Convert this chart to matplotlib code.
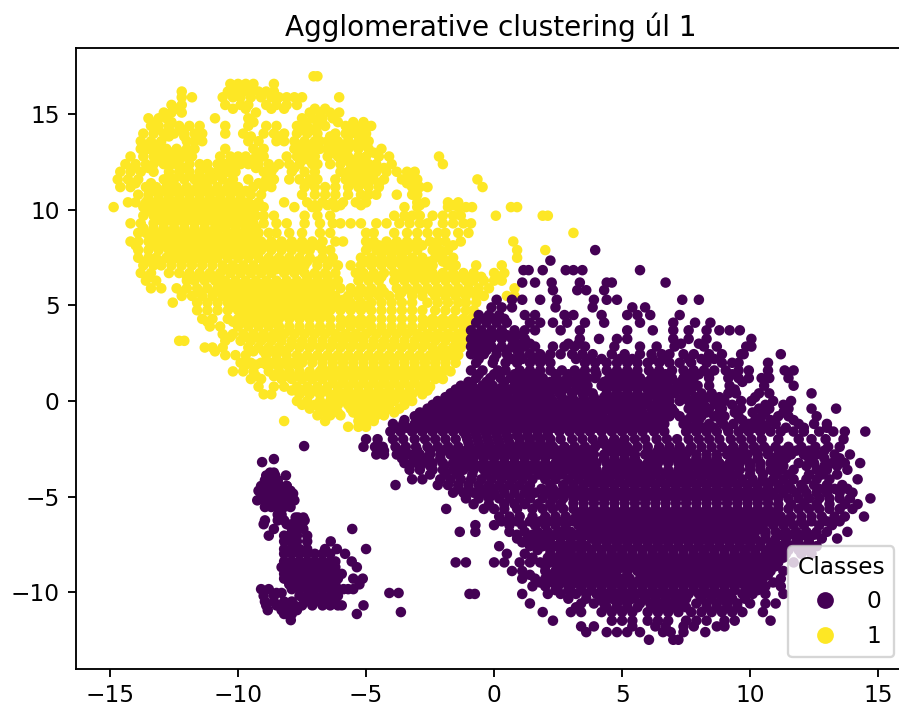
# scatter of two agglomerative clusters
import matplotlib
matplotlib.use('Agg')
import matplotlib.pyplot as plt

# each row is (y, [x values])
yellow_top = [
    (17.0, [-7.05, -6.9]),
    (16.6, [-10.3, -10.0, -9.7, -9.4, -8.6]),
    (16.2, [-12.2, -10.4, -10.1, -9.8, -9.5, -9.2, -8.9, -8.6]),
    (15.9, [-12.2, -11.8, -10.6, -10.2, -9.9, -9.5, -9.1, -8.7, -8.4, -8.1, -7.8, -7.5, -6.05]),
    (15.5, [-12.6, -12.2, -10.5, -9.9, -9.6, -8.9, -8.5, -8.1, -7.7]),
    (15.1, [-12.9, -12.6, -12.2, -9.3, -7.2, -6.8, -6.4, -6.05]),
    (14.8, [-13.5, -13.1, -12.8, -10.9, -9.6, -7.5, -7.1, -6.7, -6.3]),
    (14.4, [-13.4, -13.1, -12.7, -12.3, -11.9, -11.5, -10.5, -9.6, -8.9, -8.5, -7.7, -7.3, -6.9, -6.6, -5.8, -5.4, -5.0, -4.8]),
    (14.0, [-13.7, -13.3, -12.9, -12.5, -12.1, -11.7, -11.4, -10.5, -9.8, -9.0, -8.6, -8.2, -7.7, -7.3, -6.9, -6.2, -5.8, -5.4, -5.0]),
    (13.6, [-13.8, -13.4, -13.0, -12.0, -11.7, -11.4, -9.6, -9.2, -8.5, -8.2, -7.8, -7.4, -7.0, -6.8, -6.5, -6.1, -5.7, -5.3, -4.9]),
    (13.2, [-13.8, -13.5, -13.1, -12.8, -12.4, -12.0, -11.7, -10.5, -9.4, -9.0, -7.8, -7.4, -7.0, -6.8, -6.5, -6.1, -5.7, -5.3, -4.9, -4.4]),
    (12.8, [-14.2, -13.7, -13.3, -12.9, -12.5, -12.1, -11.8, -10.7, -10.3, -10.0, -9.7, -9.3, -9.0, -8.1, -7.7, -7.3, -7.0, -6.5, -6.1, -5.7, -5.3, -5.0, -4.5, -4.1, -2.15]),
    (12.4, [-14.4, -14.0, -13.6, -13.3, -12.9, -12.6, -12.4, -11.9, -11.5, -11.2, -10.8, -10.5, -10.2, -9.9, -9.6, -9.2, -8.8, -8.4, -8.0, -7.6, -7.1, -6.9, -6.4, -6.0, -5.6, -5.2, -4.9, -4.6, -4.0, -2.0]),
    (12.0, [-14.6, -14.2, -13.8, -13.3, -12.7, -12.3, -11.9, -11.5, -11.1, -10.8, -10.4, -10.1, -9.0, -8.7, -7.9, -7.4, -7.0, -6.0, -5.7, -5.3, -5.0, -4.6, -4.2, -3.8, -3.4, -3.1]),
    (11.6, [-14.7, -14.3, -13.9, -12.9, -12.5, -12.1, -11.7, -11.3, -11.0, -10.6, -10.2, -9.6, -8.9, -8.6, -8.0, -7.6, -7.2, -6.9, -6.2, -5.8, -5.4, -5.0, -4.7, -4.3, -3.6, -3.3, -3.0, -0.65]),
    (11.2, [-14.6, -14.2, -13.6, -13.2, -12.8, -12.4, -12.0, -11.6, -11.2, -10.8, -10.4, -10.0, -9.4, -9.0, -8.7, -7.4, -7.0, -6.6, -6.2, -5.7, -5.3, -4.9, -4.5, -3.2, -2.9, -2.6, -0.45]),
    (10.8, [-13.9, -13.5, -13.1, -12.7, -12.3, -11.9, -11.5, -11.1, -10.7, -10.3, -9.9, -9.5, -9.1, -7.5, -7.0, -6.6, -6.2, -5.7, -5.2, -4.9, -4.6, -3.8, -3.2, -3.0]),
    (10.4, [-14.3, -14.0, -13.6, -13.2, -12.8, -12.4, -12.0, -11.6, -11.2, -10.8, -10.4, -10.0, -9.6, -9.2, -8.2, -7.3, -6.7, -6.3, -5.9, -5.4, -5.0, -3.0, -2.7, -1.8, -1.4]),
    (10.15, [-14.86, -13.7, -13.3, -12.9, -12.5, -12.1, -11.7, -11.3, -10.9, -10.5, -10.1, -9.7, -9.3, -9.0, -7.8, -7.1, -6.9, -6.2, -3.5, -3.0, -1.8, -1.4, -1.1, -0.86, 0.66, 0.9]),
    (9.7, [-13.7, -13.3, -12.9, -12.5, -12.1, -11.7, -11.3, -10.9, -10.5, -10.1, -9.7, -9.3, -9.0, -8.6, -7.4, -6.9, -6.4, -3.9, -3.5, -3.2, -2.9, -2.4, -2.0, -1.6, -1.3, 0.07, 1.9, 2.1]),
    (9.3, [-14.2, -13.8, -13.3, -12.9, -12.5, -12.1, -11.7, -11.3, -10.9, -10.6, -10.2, -9.8, -9.4, -9.0, -8.5, -8.1, -7.4, -6.8, -6.3, -6.0, -5.6, -5.2, -4.6, -4.2, -3.7, -3.3, -2.9, -2.6, -2.0, -1.6, -1.2, -0.9]),
    (8.8, [-13.9, -13.6, -13.2, -12.8, -12.4, -12.0, -11.6, -11.2, -10.8, -10.4, -10.0, -9.6, -9.2, -8.8, -8.5, -8.0, -7.5, -6.8, -6.4, -5.0, -4.7, -3.9, -3.4, -3.0, -2.6, -2.2, -1.9, -1.4, -1.0, 3.1]),
    (8.35, [-14.2, -13.9, -13.5, -13.1, -12.7, -12.3, -11.9, -11.5, -11.1, -10.7, -10.3, -9.9, -9.5, -9.1, -8.7, -8.3, -7.9, -7.5, -7.1, -6.7, -6.2, -5.9, -5.0, -4.7, -4.2, -3.8, -3.4, -3.0, -2.5, -2.2, -1.9, -1.3, 0.75]),
]

yellow_middle = [
    (7.9, [-13.9, -13.5, -13.1, -12.7, -12.3, -11.9, -11.5, -11.1, -10.7, -10.3, -9.9, -9.5, -9.1, -8.7, -8.3, -7.9, -7.5, -7.2, -6.7, -6.4, -5.0, -4.6, -4.2, -3.8, -3.4, -3.0, -2.4, -2.1, -1.8, 2.0, 0.9]),
    (7.5, [-13.9, -13.5, -13.2, -12.8, -12.4, -12.0, -11.6, -11.2, -10.8, -10.4, -10.0, -9.6, -9.2, -8.8, -8.4, -8.0, -7.6, -7.2, -6.7, -6.3, -5.2, -4.8, -4.4, -4.0, -3.6, -3.2, -2.8, -2.3, -2.0, -1.6, 0.9]),
    (7.1, [-13.7, -13.3, -13.0, -12.6, -12.2, -11.8, -11.4, -11.0, -10.6, -10.2, -9.8, -9.4, -9.0, -8.6, -8.2, -7.8, -7.4, -6.9, -6.5, -6.1, -5.6, -5.2, -4.8, -4.4, -4.0, -3.6, -3.2, -2.8, -2.4, -1.8, -1.5, -0.7, 0.3]),
    (6.7, [-13.8, -13.4, -12.7, -12.3, -11.9, -11.5, -11.1, -10.7, -10.3, -9.9, -9.5, -9.1, -8.7, -8.2, -7.8, -7.4, -7.0, -6.6, -6.2, -5.4, -5.1, -4.7, -4.3, -3.9, -3.6, -3.2, -2.8, -2.4, -2.0, -1.6, -1.2, -0.8, 0.0, 0.4]),
    (6.3, [-13.6, -13.2, -12.0, -11.7, -11.3, -10.9, -10.5, -10.1, -9.7, -9.3, -8.9, -8.5, -8.1, -7.7, -7.3, -6.9, -6.5, -6.1, -5.3, -4.9, -4.5, -3.9, -3.5, -3.1, -2.7, -2.3, -1.9, -1.5, -1.1, -0.8, -0.4, 0.0, 0.3]),
    (5.9, [-13.4, -13.0, -12.4, -12.0, -11.6, -11.2, -10.8, -10.4, -10.0, -9.6, -9.2, -8.8, -8.4, -8.0, -7.6, -7.2, -6.8, -6.4, -6.0, -5.6, -5.2, -4.8, -4.4, -3.8, -3.4, -3.0, -2.6, -2.2, -1.8, -1.4, -1.0, -0.6, -0.2, 0.8]),
    (5.5, [-12.2, -11.8, -11.4, -11.0, -10.6, -10.2, -9.8, -9.4, -9.0, -8.6, -8.2, -7.8, -7.4, -7.0, -6.6, -6.2, -5.7, -5.3, -4.9, -4.5, -4.1, -3.7, -3.2, -2.8, -2.3, -1.9, -1.5, -1.1, -0.7, -0.4, 0.5, 0.8]),
    (5.15, [-12.55, -11.6, -11.2, -10.8, -10.4, -10.0, -9.6, -9.2, -8.8, -8.4, -8.0, -7.6, -7.2, -6.8, -6.4, -6.0, -5.6, -5.2, -4.8, -4.4, -4.0, -3.6, -3.2, -2.6, -2.2, -1.8, -1.4, -1.1, -0.7]),
    (4.75, [-11.6, -11.2, -10.8, -10.4, -10.0, -9.6, -9.2, -8.8, -8.4, -8.0, -7.6, -7.2, -6.8, -6.4, -6.0, -5.6, -5.2, -4.8, -4.4, -4.0, -3.6, -3.2, -2.8, -2.3, -1.9, -1.5, -1.1, -0.8]),
    (4.3, [-11.4, -11.0, -10.4, -10.0, -9.6, -9.2, -8.8, -8.4, -8.0, -7.6, -7.2, -6.8, -6.4, -6.0, -5.6, -5.2, -4.8, -4.4, -4.0, -3.6, -3.2, -2.8, -2.4, -2.0, -1.6, -1.2, -0.9]),
    (3.9, [-11.1, -10.7, -10.0, -9.6, -9.2, -8.8, -8.4, -8.0, -7.6, -7.2, -6.8, -6.4, -6.0, -5.6, -5.2, -4.8, -4.4, -4.0, -3.6, -3.2, -2.8, -2.4, -2.0, -1.6, -1.2, -1.0]),
    (3.5, [-10.6, -10.2, -9.8, -9.4, -9.0, -8.6, -8.2, -7.8, -7.4, -7.0, -6.6, -6.2, -5.8, -5.4, -5.0, -4.6, -4.2, -3.8, -3.4, -3.0, -2.6, -2.2, -1.8, -1.4, -1.1]),
    (3.15, [-12.3, -12.1, -10.5, -9.9, -9.5, -9.1, -8.7, -8.3, -7.9, -7.5, -7.1, -6.7, -6.3, -5.9, -5.5, -5.1, -4.7, -4.3, -3.9, -3.5, -3.1, -2.7, -2.3, -1.9, -1.5, -1.2]),
    (2.8, [-11.3, -11.0, -10.6, -9.6, -9.2, -8.8, -8.4, -8.0, -7.6, -7.2, -6.8, -6.4, -6.0, -5.6, -5.2, -4.8, -4.4, -4.0, -3.6, -3.2, -2.8, -2.4, -2.0, -1.6, -1.3]),
    (2.4, [-10.5, -10.1, -9.7, -8.9, -8.5, -8.1, -7.7, -7.3, -6.9, -6.5, -6.1, -5.7, -5.3, -4.9, -4.5, -4.1, -3.7, -3.3, -2.9, -2.5, -2.1, -1.7, -1.4]),
    (2.0, [-9.9, -9.5, -9.1, -8.7, -8.3, -7.9, -7.5, -7.1, -6.7, -6.3, -5.9, -5.5, -5.1, -4.7, -4.3, -3.9, -3.5, -3.1, -2.7, -2.3, -1.9, -1.5]),
    (1.55, [-10.2, -9.8, -9.4, -8.8, -8.4, -8.0, -7.6, -7.2, -6.8, -6.4, -6.0, -5.6, -5.2, -4.8, -4.4, -4.0, -3.6, -3.2, -2.8, -2.4, -2.0, -1.7]),
    (1.15, [-9.5, -9.1, -8.3, -7.9, -7.5, -7.1, -6.7, -6.3, -5.9, -5.5, -5.1, -4.7, -4.3, -3.9, -3.5, -3.1, -2.7, -2.3, -2.0]),
    (0.75, [-9.2, -8.6, -8.2, -7.7, -7.3, -6.9, -6.5, -6.1, -5.7, -5.3, -4.9, -4.5, -4.1, -3.7, -3.3, -2.9, -2.5]),
    (0.35, [-9.0, -8.7, -7.6, -7.2, -6.8, -6.4, -6.0, -5.6, -5.2, -4.8, -4.4, -4.0, -3.6, -3.2, -2.8]),
    (0.0, [-7.7, -7.3, -6.8, -6.4, -5.9, -5.5, -5.1, -4.7, -4.3, -3.9, -3.5, -3.2]),
    (-0.4, [-7.2, -6.8, -6.3, -5.6, -5.2, -4.8, -4.4, -4.1, -3.7]),
    (-0.75, [-6.9, -6.4, -6.0, -5.3, -4.9, -4.6, -4.3]),
    (-1.05, [-8.2, -6.6, -5.3, -5.0, -4.7]),
    (-1.35, [-5.7, -5.3, -5.0]),
]

# extra points where the yellow cloud is solid
yellow_dense = [
    (14.2, [-13.2, -12.7, -12.2, -7.5, -7.1, -5.6, -5.2]),
    (13.4, [-13.6, -13.2, -7.6, -7.2, -6.3, -5.9, -5.5, -5.1]),
    (12.6, [-13.1, -12.7, -12.3, -9.5, -7.5, -7.2, -5.9, -5.5]),
    (11.8, [-12.7, -12.3, -11.9, -11.5, -11.1, -10.7, -5.6, -5.2, -4.8]),
    (11.0, [-13.3, -12.9, -12.5, -12.1, -11.7, -11.3, -10.9, -10.5, -10.1, -9.7]),
    (10.6, [-13.5, -13.1, -12.7, -12.3, -11.9, -11.5, -11.1, -10.7, -10.3, -9.9]),
    (9.95, [-13.5, -13.1, -12.7, -12.3, -11.9, -11.5, -11.1, -10.7, -10.3, -9.9, -9.5]),
    (9.5, [-13.1, -12.7, -12.3, -11.9, -11.5, -11.1, -10.7, -10.3, -9.9, -9.5]),
    (9.05, [-13.7, -13.3, -12.9, -12.5, -12.1, -11.7, -11.3, -10.9, -10.5, -10.1, -9.7, -9.3]),
    (8.6, [-13.3, -12.9, -12.5, -12.1, -11.7, -11.3, -10.9, -10.5, -10.1, -9.7, -9.3]),
    (7.7, [-12.5, -12.1, -11.7, -11.3, -10.9, -10.5, -10.1, -9.7, -9.3, -4.4, -4.0, -3.6]),
    (6.9, [-10.5, -10.1, -9.7, -9.3, -8.9, -8.5, -8.0, -7.6, -3.4, -3.0, -2.6]),
    (6.1, [-10.7, -10.3, -9.9, -9.5, -9.1, -8.7, -8.3, -7.9, -7.5, -7.1, -6.7, -6.3]),
    (5.7, [-10.9, -10.5, -10.1, -9.7, -9.3, -8.9, -8.5, -8.1, -7.7, -7.3, -6.9, -6.5]),
    (5.3, [-10.3, -9.9, -9.5, -9.1, -8.7, -8.3, -7.9, -7.5, -7.1, -6.7, -6.3, -5.9]),
    (4.95, [-10.2, -9.8, -9.4, -9.0, -8.6, -8.2, -7.8, -7.4, -7.0, -6.6, -6.2, -5.8, -5.4, -5.0]),
    (4.5, [-9.8, -9.4, -9.0, -8.6, -8.2, -7.8, -7.4, -7.0, -6.6]),
    (3.7, [-8.4, -8.0, -7.6, -7.2, -6.8, -6.4, -4.8, -4.4, -4.0, -3.6, -3.2]),
    (2.95, [-7.9, -7.5, -7.1, -6.7, -6.3, -5.9, -5.5, -5.1, -4.7, -4.3, -3.9, -3.5, -3.1, -2.7]),
    (2.2, [-7.5, -7.1, -6.7, -6.3, -5.9, -5.5, -5.1, -4.7, -4.3, -3.9, -3.5, -3.1, -2.7, -2.3, -1.9]),
    (1.75, [-6.7, -6.3, -5.9, -5.5, -5.1, -4.7, -4.3, -3.9, -3.5, -3.1, -2.7, -2.3, -1.9]),
    (1.35, [-6.5, -6.1, -5.7, -5.3, -4.9, -4.5, -4.1, -3.7, -3.3, -2.9, -2.5, -2.1]),
    (0.95, [-6.3, -5.9, -5.5, -5.1, -4.7, -4.3, -3.9, -3.5, -3.1, -2.7]),
    (0.55, [-6.1, -5.7, -5.3, -4.9, -4.5, -4.1, -3.7, -3.3, -2.9]),
    (0.2, [-6.2, -5.7, -5.3, -4.9, -4.5, -4.1, -3.7, -3.3]),
]

# in-between points that break up the rows of the yellow cloud
yellow_fill = [
    (15.3, [-12.4, -10.2, -9.7, -8.7, -8.2, -7.0, -6.6]),
    (14.6, [-13.2, -12.6, -9.4, -7.4, -6.9, -6.1, -5.5, -5.1]),
    (13.85, [-12.7, -12.1, -11.6, -9.5, -8.4, -6.4, -5.7, -5.2]),
    (13.0, [-13.2, -12.6, -12.2, -9.2, -7.6, -7.2, -6.3, -5.9, -4.7]),
    (12.2, [-14.1, -13.5, -12.1, -11.3, -10.6, -9.3, -8.6, -7.8, -5.5, -4.8, -4.3]),
    (11.4, [-14.0, -13.4, -12.6, -11.5, -10.3, -9.2, -8.8, -7.3, -5.6, -5.1, -4.5, -3.4]),
    (10.25, [-9.4, -7.0, -6.5, -6.0, -5.2, -2.9, -1.6]),
    (8.15, [-14.0, -13.3, -12.9, -12.5, -12.1, -11.7, -11.3, -10.9, -10.5, -10.1, -9.7, -9.3, -8.9, -8.5, -8.1, -7.7, -7.3, -6.9, -4.9, -4.5, -4.0, -3.6, -3.2, -2.8, -2.3, -1.6]),
    (7.3, [-13.6, -13.0, -12.6, -12.2, -11.8, -11.4, -11.0, -8.9, -8.5, -8.1, -7.7, -7.3, -6.9, -6.4, -5.0, -4.6, -4.2, -3.8, -3.4, -2.9, -2.5, -2.0, -1.7]),
    (6.5, [-13.5, -12.0, -11.6, -11.2, -10.8, -7.3, -6.9, -6.5, -5.2, -4.8, -4.4, -3.7, -3.3, -2.9, -2.5, -2.1, -1.7, -1.3, -0.9, -0.5, 0.2]),
    (5.7, [-12.2, -11.5, -5.5, -5.1, -4.7, -4.3, -3.6, -3.2, -2.8, -2.4, -2.0, -1.6, -1.2, -0.8]),
    (4.15, [-11.2, -10.2, -9.8, -9.4, -9.0, -8.6, -5.8, -5.4, -5.0, -2.6, -2.2, -1.8, -1.4, -1.0]),
    (3.35, [-10.3, -9.7, -9.3, -8.9, -8.5, -6.0, -5.6, -5.2, -2.8, -2.4, -2.0, -1.6, -1.2]),
    (2.6, [-10.9, -9.4, -9.0, -8.6, -8.2, -2.3, -1.9, -1.5]),
    (1.9, [-9.7, -9.3, -8.9, -8.5, -8.1, -7.7]),
    (1.3, [-9.3, -8.6, -8.1, -7.7, -7.3, -6.9]),
    (0.55, [-7.9, -7.4, -7.0, -6.6, -2.6]),
    (-0.2, [-7.5, -7.0, -6.6, -6.1, -5.7, -5.3, -4.9, -4.5, -4.1, -3.5]),
    (-0.6, [-6.6, -6.1, -5.5, -5.1, -4.7, -4.3, -3.9]),
]

purple_top = [
    (7.9, [3.95]),
    (7.35, [2.2]),
    (6.85, [1.15, 1.35, 1.9, 2.8, 3.1, 3.45, 5.7]),
    (6.2, [1.1, 1.6, 2.25, 3.35, 4.4, 4.6, 6.7]),
    (5.8, [2.3, 3.25, 3.6, 4.3]),
    (5.3, [0.1, 0.7, 1.1, 1.8, 2.45, 3.9, 4.4, 4.8, 7.35, 8.0]),
    (4.9, [-0.1, 0.3, 0.7, 2.4, 3.85, 5.4, 5.9]),
    (4.5, [-0.6, -0.2, 0.2, 1.2, 1.6, 2.75, 3.1, 4.2, 5.2, 5.6, 6.1, 7.25]),
    (4.1, [-0.7, -0.3, 0.1, 0.5, 1.4, 1.8, 2.3, 2.85, 3.55, 4.3, 5.7, 7.0, 7.85, 8.45]),
    (3.7, [-0.9, -0.5, -0.1, 0.3, 0.8, 1.2, 1.6, 2.6, 3.35, 5.2, 6.2, 7.0, 7.6, 8.3, 8.8, 9.2, 9.6]),
    (3.25, [-0.9, -0.5, -0.1, 0.3, 0.7, 1.2, 3.35, 4.1, 4.8, 5.2, 7.0, 7.6, 8.3, 10.05]),
    (2.85, [-0.9, -0.5, -0.1, 0.3, 0.7, 1.2, 1.6, 2.3, 2.75, 3.15, 3.55, 4.7, 5.7, 6.35, 7.05, 8.2, 8.7, 10.05, 9.85]),
    (2.45, [-0.9, -0.4, 0.1, 0.5, 1.0, 1.4, 1.8, 2.2, 2.6, 3.05, 3.45, 3.85, 4.6, 5.1, 5.7, 6.15, 6.55, 6.85, 7.4, 7.8, 8.4, 8.9, 9.75, 9.65, 11.2]),
    (2.0, [-0.7, -0.05, 0.45, 0.9, 1.4, 1.8, 2.2, 3.55, 3.95, 4.4, 4.8, 5.2, 5.6, 6.0, 6.45, 6.85, 7.25, 7.7, 8.3, 8.9, 9.3, 9.55, 10.7]),
    (1.6, [-0.9, -0.45, 0.15, 0.45, 1.0, 1.4, 1.8, 2.2, 2.65, 3.15, 3.55, 3.95, 4.4, 4.8, 5.2, 5.6, 6.05, 6.45, 6.95, 7.4, 7.8, 8.2, 8.6, 9.05, 9.55, 9.95, 10.7, 11.7, 11.35]),
    (1.2, [-0.7, -0.15, 0.25, 0.65, 1.1, 1.5, 1.9, 2.45, 2.85, 3.25, 3.65, 3.95, 4.5, 4.9, 5.3, 5.7, 6.15, 6.55, 6.95, 7.4, 7.8, 8.4, 9.15, 9.55, 9.95, 10.45, 10.75, 11.5]),
    (0.8, [-1.3, -0.85, -0.45, -0.05, 0.35, 0.8, 1.2, 1.6, 2.0, 2.45, 2.85, 3.25, 3.65, 4.2, 4.6, 5.0, 5.4, 5.85, 6.25, 6.65, 7.15, 7.55, 7.95, 8.4, 9.2, 10.55, 11.7]),
    (0.4, [-1.7, -1.3, -0.85, -0.45, -0.05, 0.45, 0.9, 1.3, 1.7, 2.1, 2.55, 3.05, 3.45, 3.85, 4.4, 4.8, 5.2, 5.6, 6.15, 6.55, 7.05, 7.5, 8.1, 8.5, 9.15, 9.45, 10.35, 10.75, 12.4]),
    (0.0, [-2.2, -1.8, -1.35, -0.95, -0.55, -0.15, 0.25, 0.7, 1.1, 1.5, 1.9, 2.3, 2.75, 3.15, 3.55, 3.95, 4.4, 4.8, 5.2, 5.6, 6.0, 6.45, 6.85, 7.25, 7.6, 8.1, 8.6, 9.0, 9.65, 10.05, 10.9, 11.6]),
    (-0.4, [-2.6, -2.2, -1.8, -1.35, -0.95, -0.55, -0.15, 0.25, 0.7, 1.1, 1.5, 1.9, 2.3, 2.75, 3.15, 3.55, 3.95, 4.4, 4.8, 5.3, 5.7, 6.15, 6.55, 6.95, 7.6, 8.0, 8.4, 8.9, 9.65, 10.35, 10.75, 11.5, 12.4, 13.36]),
    (-0.8, [-3.1, -2.7, -2.3, -1.9, -1.5, -1.05, -0.65, -0.25, 0.15, 0.55, 1.0, 1.4, 1.8, 2.2, 2.6, 3.05, 3.45, 3.85, 4.25, 4.7, 5.1, 5.5, 5.9, 6.35, 6.85, 7.25, 7.7, 8.1, 8.6, 9.0, 9.55, 10.45, 11.1, 11.5, 12.6]),
    (-1.2, [-3.95, -3.55, -3.1, -2.7, -2.3, -1.9, -1.5, -1.05, -0.65, -0.25, 0.15, 0.55, 1.0, 1.4, 1.8, 2.2, 2.6, 3.05, 3.45, 3.85, 4.25, 4.7, 5.1, 5.5, 5.95, 6.35, 6.65, 7.4, 7.9, 8.4, 8.95, 9.35, 9.95, 10.45, 11.0, 11.9, 12.5, 13.0]),
    (-1.6, [-4.05, -3.65, -3.2, -2.8, -2.4, -2.0, -1.6, -1.2, -0.75, -0.35, 0.05, 0.45, 0.9, 1.3, 1.7, 2.1, 2.55, 2.95, 3.35, 3.75, 4.2, 4.6, 5.0, 5.4, 5.8, 6.25, 6.65, 7.5, 7.9, 8.3, 8.7, 9.15, 9.55, 9.95, 10.4, 10.8, 11.2, 11.7, 12.1, 12.7, 13.25, 13.7, 14.5]),
    (-2.0, [-5.0, -4.55, -3.95, -3.55, -3.1, -2.7, -2.3, -1.9, -1.5, -1.05, -0.65, -0.25, 0.15, 0.55, 1.0, 1.4, 1.8, 2.2, 2.6, 3.05, 3.45, 3.85, 4.25, 4.7, 5.1, 5.5, 5.9, 6.35, 6.75, 7.15, 7.6, 8.0, 8.4, 8.8, 9.25, 9.65, 10.05, 10.45, 11.1, 11.9, 12.4, 12.95, 13.65]),
    (-2.4, [-5.1, -4.65, -4.35, -3.85, -3.45, -3.05, -2.6, -2.2, -1.8, -1.4, -0.95, -0.55, -0.15, 0.25, 0.7, 1.1, 1.5, 1.9, 2.3, 2.75, 3.15, 3.55, 3.95, 4.4, 4.8, 5.2, 5.6, 6.0, 6.45, 6.85, 7.25, 7.7, 8.1, 8.5, 8.9, 9.35, 9.75, 10.15, 10.55, 11.0, 11.5, 12.0, 12.55, 13.05, 13.5]),
]

purple_bottom = [
    (-2.8, [-4.6, -4.3, -3.8, -3.3, -2.9, -2.5, -2.1, -1.7, -1.3, -0.9, -0.5, -0.1, 0.3, 0.7, 1.1, 1.5, 1.9, 2.3, 2.7, 3.1, 3.5, 3.9, 4.3, 4.7, 5.1, 5.5, 5.9, 6.3, 6.7, 7.1, 7.5, 7.9, 8.3, 8.7, 9.1, 9.5, 9.9, 10.3, 10.7, 11.1, 11.6, 12.1, 12.6, 13.3, 13.9]),
    (-3.25, [-3.5, -3.2, -2.8, -2.4, -2.0, -1.6, -1.2, -0.8, -0.4, 0.0, 0.4, 0.8, 1.2, 1.6, 2.0, 2.4, 2.8, 3.2, 3.6, 4.0, 4.4, 4.8, 5.2, 5.6, 6.0, 6.4, 6.8, 7.2, 7.6, 8.0, 8.4, 8.8, 9.2, 9.6, 10.0, 10.4, 10.8, 11.2, 11.9, 12.5, 13.2, 13.7, 14.3]),
    (-3.6, [-3.3, -2.9, -2.4, -2.0, -1.6, -1.2, -0.8, -0.4, 0.0, 0.4, 0.8, 1.2, 1.6, 2.0, 2.4, 2.8, 3.2, 3.6, 4.0, 4.4, 4.8, 5.2, 5.6, 6.0, 6.4, 6.8, 7.2, 7.6, 8.0, 8.4, 8.8, 9.2, 9.6, 10.0, 10.4, 10.8, 11.2, 11.7, 12.6, 13.0, 13.8]),
    (-4.1, [-3.2, -2.8, -2.1, -1.7, -1.3, -0.9, -0.5, -0.1, 0.3, 0.7, 1.1, 1.5, 2.0, 2.4, 2.9, 3.3, 3.7, 4.1, 4.5, 4.9, 5.3, 5.7, 6.1, 6.5, 6.9, 7.3, 7.7, 8.1, 8.5, 8.9, 9.3, 9.7, 10.1, 10.5, 10.9, 11.3, 11.7, 12.2, 12.6, 13.1, 14.2]),
    (-4.4, [-3.85, -2.2, -1.8, -1.4, -1.0, -0.6, -0.2, 0.2, 0.6, 1.0, 1.4, 2.2, 2.7, 3.1, 3.5, 3.9, 4.3, 4.7, 5.1, 5.5, 5.9, 6.3, 6.7, 7.1, 7.5, 7.9, 8.3, 8.7, 9.1, 9.5, 9.9, 10.3, 10.7, 11.1, 11.5, 12.0, 12.5, 13.0, 13.6]),
    (-4.8, [-1.6, -1.2, -0.8, -0.4, 0.0, 0.4, 0.8, 1.2, 1.6, 2.1, 2.5, 2.9, 3.3, 3.7, 4.1, 4.5, 4.9, 5.3, 5.7, 6.1, 6.5, 6.9, 7.3, 7.7, 8.1, 8.5, 8.9, 9.3, 9.7, 10.1, 10.5, 10.9, 11.3, 11.8, 12.2, 12.6, 13.0, 13.5, 14.0]),
    (-5.1, [-1.1, -0.6, -0.2, 0.2, 0.6, 1.0, 1.4, 1.9, 2.3, 2.7, 3.1, 3.5, 3.9, 4.3, 4.7, 5.1, 5.5, 5.9, 6.3, 6.7, 7.1, 7.5, 7.9, 8.3, 8.7, 9.1, 9.5, 9.9, 10.3, 10.7, 11.1, 11.5, 11.9, 12.3, 12.7, 13.1, 13.5, 13.9, 14.7]),
    (-5.65, [-1.87, -0.4, 0.0, 0.4, 0.9, 1.5, 1.9, 2.3, 2.7, 3.1, 3.5, 3.9, 4.3, 4.7, 5.1, 5.5, 5.9, 6.3, 6.7, 7.1, 7.5, 7.9, 8.3, 8.7, 9.1, 9.5, 9.9, 10.3, 10.7, 11.1, 11.5, 11.9, 12.3, 12.7, 13.1, 13.5, 14.0]),
    (-6.05, [0.2, 0.6, 1.0, 1.5, 2.0, 2.4, 2.8, 3.2, 3.6, 4.0, 4.4, 4.8, 5.2, 5.6, 6.0, 6.4, 6.8, 7.2, 7.6, 8.0, 8.4, 8.8, 9.2, 9.6, 10.0, 10.4, 10.8, 11.2, 11.6, 12.0, 12.4, 12.8, 13.3, 13.7, 14.45]),
    (-6.5, [-0.73, 0.0, 0.6, 1.1, 1.6, 2.0, 2.4, 2.8, 3.3, 3.7, 4.1, 4.5, 4.9, 5.3, 5.7, 6.1, 6.5, 6.9, 7.3, 7.7, 8.1, 8.5, 8.9, 9.3, 9.7, 10.1, 10.5, 10.9, 11.3, 11.7, 12.1, 12.7, 13.2]),
    (-6.85, [-1.34, -0.73, 0.6, 1.2, 1.7, 2.1, 2.6, 3.0, 3.4, 3.8, 4.2, 4.6, 5.0, 5.4, 5.8, 6.2, 6.6, 7.0, 7.4, 7.8, 8.2, 8.6, 9.0, 9.4, 9.8, 10.2, 10.6, 11.0, 11.4, 11.8, 12.2, 12.6, 13.0, 13.8]),
    (-7.2, [0.9, 1.3, 1.8, 2.2, 2.6, 3.0, 3.4, 3.8, 4.2, 4.6, 5.0, 5.4, 5.8, 6.2, 6.6, 7.0, 7.4, 7.8, 8.2, 8.6, 9.0, 9.4, 9.8, 10.2, 10.6, 11.0, 11.4, 11.9, 12.3, 12.8, 13.4]),
    (-7.6, [0.2, 1.4, 1.9, 2.4, 2.8, 3.2, 3.6, 4.0, 4.4, 4.8, 5.2, 5.6, 6.0, 6.4, 6.8, 7.2, 7.6, 8.0, 8.4, 8.8, 9.2, 9.6, 10.0, 10.4, 10.8, 11.2, 11.6, 12.0, 12.6]),
    (-8.0, [0.5, 1.2, 2.2, 2.6, 3.0, 3.4, 3.8, 4.2, 4.6, 5.0, 5.4, 5.8, 6.2, 6.6, 7.0, 7.4, 7.8, 8.2, 8.6, 9.0, 9.4, 9.8, 10.2, 10.6, 11.0, 11.4, 12.0, 12.4]),
    (-8.45, [-1.5, -1.1, 0.0, 0.4, 1.0, 1.4, 1.8, 2.2, 2.7, 3.1, 3.5, 3.9, 4.3, 4.7, 5.1, 5.5, 5.9, 6.3, 6.7, 7.1, 7.5, 7.9, 8.3, 8.7, 9.1, 9.5, 9.9, 10.3, 10.7, 11.1, 11.7]),
    (-8.9, [0.7, 1.1, 2.0, 2.4, 2.8, 3.2, 3.6, 4.0, 4.4, 4.8, 5.2, 5.6, 6.0, 6.4, 6.8, 7.2, 7.6, 8.0, 8.4, 8.8, 9.2, 9.6, 10.0, 10.4, 10.8, 11.3]),
    (-9.3, [1.1, 1.6, 2.0, 2.4, 2.9, 3.3, 3.7, 4.1, 4.5, 4.9, 5.3, 5.7, 6.1, 6.5, 6.9, 7.3, 7.7, 8.1, 8.5, 8.9, 9.3, 9.7, 10.1, 10.5, 11.2]),
    (-9.7, [1.5, 2.0, 2.5, 3.0, 3.4, 3.8, 4.2, 4.6, 5.0, 5.4, 5.8, 6.2, 6.6, 7.0, 7.4, 7.8, 8.2, 8.6, 9.0, 9.4, 9.8, 10.2, 10.6, 11.2]),
    (-10.1, [-0.96, -0.75, 1.1, 2.1, 2.6, 3.2, 3.6, 4.0, 4.4, 4.8, 5.2, 5.6, 6.0, 6.4, 6.8, 7.2, 7.6, 8.0, 8.4, 8.8, 9.2, 9.7, 10.1, 10.6, 11.3]),
    (-10.6, [1.4, 3.4, 3.9, 4.3, 4.8, 5.2, 5.7, 6.1, 6.5, 6.9, 7.3, 7.9, 8.3, 8.7, 9.1, 9.5, 10.0, 10.6, 11.0]),
    (-11.05, [1.9, 3.0, 3.4, 4.2, 4.6, 5.0, 5.4, 6.0, 6.4, 6.8, 7.2, 7.7, 8.1, 8.5, 8.9, 9.3, 9.7, 10.5]),
    (-11.5, [2.3, 4.6, 5.0, 5.4, 6.0, 6.4, 6.8, 7.5, 7.9, 8.3, 9.0, 9.4, 10.8]),
    (-11.8, [3.4, 3.9, 5.4, 6.3, 6.7, 7.4, 7.8, 8.7, 9.0]),
    (-12.1, [3.6, 4.4, 4.8, 5.2, 5.7, 6.6, 6.9, 7.4, 8.25]),
    (-12.5, [6.05, 7.0, 7.2]),
]

# extra points where the purple cloud is solid
purple_dense = [
    (4.3, [-0.4, 0.0, 0.4]),
    (3.45, [-0.7, -0.3, 0.1, 0.5, 0.9]),
    (2.65, [-0.7, -0.3, 0.1, 0.5, 0.9]),
    (-1.8, [-1.1, -0.7, -0.3, 0.1, 0.5, 0.9, 1.3, 1.7, 2.1]),
    (-2.2, [-1.0, -0.6, -0.2, 0.2, 0.6, 1.0, 1.4, 1.8, 2.2, 4.2, 4.6, 5.0]),
    (-2.6, [-1.1, -0.7, -0.3, 0.1, 0.5, 0.9, 1.3, 1.7, 2.1, 4.5, 4.9, 5.3]),
    (-3.0, [-0.8, -0.4, 0.0, 0.4, 0.8, 1.2, 1.6, 4.3, 4.7, 5.1, 5.5, 7.9, 8.3, 8.7]),
    (-3.4, [-0.6, -0.2, 0.2, 0.6, 1.0, 1.4, 4.5, 4.9, 5.3, 5.7, 6.1, 7.3, 7.7, 8.1, 8.5, 8.9, 9.3]),
    (-3.85, [-0.3, 0.1, 0.5, 0.9, 3.9, 4.3, 4.7, 5.1, 5.5, 5.9, 6.3, 6.7, 7.1, 7.5, 7.9, 8.3, 8.7, 9.1, 9.5]),
    (-4.25, [3.7, 4.1, 4.5, 4.9, 5.3, 5.7, 6.1, 6.5, 6.9, 7.3, 7.7, 8.1, 8.5, 8.9, 9.3, 9.7, 10.1]),
    (-4.65, [3.5, 3.9, 4.3, 4.7, 5.1, 5.5, 5.9, 6.3, 6.7, 7.1, 7.5, 7.9, 8.3, 8.7, 9.1, 9.5, 9.9, 10.3]),
    (-4.95, [3.3, 3.7, 4.1, 4.5, 4.9, 5.3, 5.7, 6.1, 6.5, 6.9, 7.3, 7.7, 8.1, 8.5, 8.9, 9.3, 9.7, 10.1, 10.5]),
    (-5.35, [3.1, 3.5, 3.9, 4.3, 4.7, 5.1, 5.5, 5.9, 6.3, 6.7, 7.1, 7.5, 7.9, 8.3, 8.7, 9.1, 9.5, 9.9, 10.3, 10.7]),
    (-5.85, [3.3, 3.7, 4.1, 4.5, 4.9, 5.3, 5.7, 6.1, 6.5, 6.9, 7.3, 7.7, 8.1, 8.5, 8.9, 9.3, 9.7, 10.1, 10.5, 10.9]),
    (-6.25, [3.5, 3.9, 4.3, 4.7, 5.1, 5.5, 5.9, 6.3, 6.7, 7.1, 7.5, 7.9, 8.3, 8.7, 9.1, 9.5, 9.9, 10.3, 10.7]),
    (-6.7, [3.6, 4.0, 4.4, 4.8, 5.2, 5.6, 6.0, 6.4, 6.8, 7.2, 7.6, 8.0, 8.4, 8.8, 9.2, 9.6, 10.0, 10.4]),
    (-7.05, [3.7, 4.1, 4.5, 4.9, 5.3, 5.7, 6.1, 6.5, 6.9, 7.3, 7.7, 8.1, 8.5, 8.9, 9.3, 9.7, 10.1]),
    (-7.4, [4.0, 4.4, 4.8, 5.2, 5.6, 6.0, 6.4, 6.8, 7.2, 7.6, 8.0, 8.4, 8.8, 9.2, 9.6, 10.0]),
    (-7.8, [4.2, 4.6, 5.0, 5.4, 5.8, 6.2, 6.6, 7.0, 7.4, 7.8, 8.2, 8.6, 9.0, 9.4, 9.8]),
    (-8.25, [4.5, 4.9, 5.3, 5.7, 6.1, 6.5, 6.9, 7.3, 7.7, 8.1, 8.5, 8.9, 9.3]),
    (-8.7, [5.0, 5.4, 5.8, 6.2, 6.6, 7.0, 7.4, 7.8, 8.2, 8.6, 9.0]),
    (-9.1, [5.8, 6.2, 6.6, 7.0, 7.4, 7.8, 8.2]),
]

# in-between points that break up the rows of the purple cloud
purple_fill = [
    (3.0, [-0.8, -0.2, 0.9, 1.4, 2.9, 3.3, 7.3, 8.0]),
    (2.2, [-0.6, 0.0, 0.7, 1.1, 1.6, 2.0, 3.2, 3.7, 4.2, 4.9, 5.4, 6.2, 6.6, 7.6, 8.1, 8.6]),
    (1.4, [-0.6, 0.0, 0.8, 1.2, 1.7, 2.4, 2.9, 3.4, 4.0, 4.6, 5.1, 5.5, 6.3, 6.7, 7.6, 8.0, 8.4, 9.3]),
    (1.0, [-1.0, -0.3, 0.4, 0.9, 1.4, 1.8, 2.2, 2.7, 3.0, 3.4, 4.3, 4.8, 5.2, 5.6, 6.0, 6.4, 6.8, 7.3, 7.7, 9.7]),
    (0.6, [-1.5, -1.05, -0.65, -0.2, 0.2, 0.6, 1.05, 1.45, 1.85, 2.3, 2.7, 3.2, 3.6, 4.4, 4.8, 5.2, 5.6, 6.0, 6.4, 6.85, 7.3, 7.7, 9.4]),
    (0.2, [-1.9, -1.5, -1.1, -0.7, -0.25, 0.15, 0.55, 1.0, 1.4, 1.8, 2.2, 2.65, 3.05, 3.5, 3.9, 4.3, 4.7, 5.1, 5.5, 5.9, 6.35, 6.75, 7.4, 7.85, 8.4, 8.8, 10.2]),
    (-0.2, [-2.4, -2.0, -1.55, -1.15, -0.75, -0.35, 0.05, 0.5, 0.9, 1.3, 1.7, 2.1, 2.55, 2.95, 3.35, 3.75, 4.2, 4.6, 5.0, 5.45, 5.85, 6.3, 6.75, 7.8, 8.2, 8.7, 9.3, 10.6, 11.3]),
    (-0.6, [-2.9, -2.5, -2.05, -1.6, -1.2, -0.8, -0.4, 0.05, 0.45, 0.85, 1.25, 1.65, 2.05, 2.5, 2.9, 3.3, 3.7, 4.1, 4.6, 5.0, 5.4, 5.8, 6.2, 6.65, 7.05, 7.9, 8.3, 8.8, 9.4, 10.1, 10.6, 11.3]),
    (-1.0, [-3.5, -3.0, -2.55, -2.1, -1.7, -1.3, -0.9, -0.45, -0.05, 0.35, 0.8, 1.2, 1.6, 2.0, 2.4, 2.85, 3.25, 3.65, 4.05, 4.5, 4.9, 5.3, 5.75, 6.15, 6.55, 7.55, 8.0, 8.85, 9.7, 10.2, 10.8, 11.7]),
    (-1.4, [-3.85, -3.4, -2.95, -2.55, -2.15, -1.75, -1.35, -0.9, -0.5, -0.1, 0.3, 0.7, 1.15, 1.55, 1.95, 2.35, 2.8, 3.2, 3.6, 4.0, 4.45, 4.85, 5.25, 5.7, 6.1, 6.5, 7.7, 8.15, 8.6, 9.1, 9.75, 10.2, 10.65, 11.4, 12.1, 13.0]),
    (-2.6, [-4.3, -3.6, -3.0, -2.5, -2.0, -1.5, 2.5, 2.95, 3.4, 3.8, 6.0, 6.4, 6.8, 7.2, 7.6, 9.2, 9.7, 10.2, 10.7, 11.3, 11.8, 12.3, 12.9]),
    (-3.0, [-3.6, -3.1, -2.6, -2.1, -1.5, -1.15, 2.0, 2.5, 3.0, 3.4, 3.8, 6.1, 6.5, 6.9, 7.3, 9.3, 9.8, 10.3, 10.9, 11.4, 12.3, 12.9, 13.5]),
    (-3.4, [-2.9, -2.5, -1.95, -1.4, -0.95, 1.9, 2.3, 2.7, 3.1, 3.5, 3.9, 10.0, 10.4, 10.9, 11.3, 12.2, 12.9, 13.4]),
    (-3.85, [-2.5, -1.9, -1.4, -0.85, 1.3, 1.75, 2.2, 2.65, 3.1, 3.5, 10.0, 10.5, 11.0, 11.5, 12.3, 12.8, 13.4]),
    (-4.6, [-1.4, -1.0, -0.55, -0.1, 0.35, 0.8, 1.3, 1.85, 2.3, 2.75, 3.15, 10.7, 11.2, 11.6, 12.1, 12.7, 13.3, 13.8]),
    (-5.4, [-0.8, -0.2, 0.4, 0.8, 1.2, 1.7, 2.2, 2.6, 11.1, 11.6, 12.1, 12.6, 13.1, 13.7, 14.2]),
    (-6.3, [0.3, 0.9, 1.4, 1.8, 2.3, 2.7, 3.1, 11.0, 11.5, 12.0, 12.4, 13.0, 13.5]),
    (-7.0, [0.9, 1.5, 1.95, 2.4, 2.8, 3.2, 10.6, 11.2, 11.7, 12.1, 12.5]),
    (-7.4, [1.1, 1.6, 2.1, 2.6, 3.0, 3.4, 10.4, 10.9, 11.4, 11.8, 12.3]),
    (-7.8, [1.7, 2.2, 2.65, 3.0, 3.4, 3.8, 10.2, 10.7, 11.1, 11.5, 11.9, 12.3]),
    (-8.2, [1.5, 2.1, 2.5, 2.9, 3.3, 3.7, 4.1, 9.7, 10.1, 10.5, 10.9, 11.3]),
    (-8.65, [2.0, 2.5, 3.0, 3.4, 3.8, 4.2, 4.6, 9.4, 9.8, 10.2, 10.6, 11.0]),
    (-9.1, [1.4, 2.2, 2.65, 3.1, 3.5, 3.9, 4.3, 4.7, 5.2, 8.6, 9.0, 9.4, 9.8, 10.2, 10.7]),
    (-9.5, [1.8, 2.3, 2.7, 3.2, 3.6, 4.0, 4.4, 4.8, 5.2, 5.6, 6.0, 6.4, 6.8, 7.2, 7.6, 8.0, 8.4, 8.8, 9.2, 9.6, 10.0, 10.4, 10.9]),
    (-9.9, [2.4, 2.9, 3.4, 3.8, 4.2, 4.6, 5.0, 5.4, 5.8, 6.2, 6.6, 7.0, 7.4, 7.8, 8.2, 8.6, 9.0, 9.4, 9.9, 10.3]),
    (-10.35, [2.9, 3.6, 4.2, 4.6, 5.0, 5.4, 5.9, 6.3, 6.7, 7.1, 7.5, 8.1, 8.5, 8.9, 9.3, 9.8]),
    (-10.8, [3.2, 4.4, 4.8, 5.2, 5.6, 6.2, 6.6, 7.0, 7.5, 8.3, 8.7, 9.1, 9.5]),
]

purple_small = [
    (-2.36, [-7.42]),
    (-3.04, [-8.6]),
    (-3.2, [-9.06]),
    (-3.75, [-8.75, -8.6]),
    (-3.9, [-8.9, -8.55, -8.13]),
    (-4.15, [-8.95, -8.7, -8.45]),
    (-4.45, [-9.1, -8.85, -8.6, -8.35, -8.1, -8.1]),
    (-4.7, [-9.2, -8.95, -8.7, -8.45, -8.2, -7.95]),
    (-4.85, [-9.1, -8.8, -8.55, -8.3, -8.05, -7.85]),
    (-5.2, [-9.25, -9.0, -8.75, -8.5, -8.25, -8.0, -7.8]),
    (-5.55, [-8.95, -8.7, -8.45, -8.2, -7.95]),
    (-5.95, [-8.45, -8.3]),
    (-6.1, [-7.75, -7.65, -7.45]),
    (-6.25, [-8.95, -8.45, -8.2, -7.4]),
    (-6.45, [-9.0, -8.1, -7.9, -7.7, -7.5]),
    (-6.7, [-5.54, -8.6, -7.9, -7.7, -7.45]),
    (-7.05, [-8.8, -8.2, -8.0, -7.7, -7.3]),
    (-7.35, [-8.2, -7.95, -7.7, -6.38, -7.3]),
    (-7.75, [-8.2, -7.9, -7.6, -7.3, -6.6, -6.14, -5.0]),
    (-8.0, [-8.2, -7.9, -7.6, -7.3, -7.0, -6.7, -6.4, -5.82]),
    (-8.4, [-8.2, -7.9, -7.6, -7.3, -7.0, -6.7, -6.4, -6.2, -5.56]),
    (-8.7, [-8.3, -8.0, -7.7, -7.4, -7.1, -6.8, -6.5, -6.2, -5.36]),
    (-9.05, [-8.2, -7.9, -7.6, -7.3, -7.0, -6.7, -6.4, -6.1, -5.95]),
    (-9.3, [-8.2, -7.9, -7.6, -7.3, -7.0, -6.7, -6.4, -6.1, -5.5, -5.13]),
    (-9.6, [-8.0, -7.7, -7.4, -7.1, -6.8, -6.5, -6.2, -5.26]),
    (-9.85, [-9.1, -8.8, -7.9, -7.6, -7.3, -7.0, -6.7, -6.4, -6.1, -5.88, -5.7, -5.5]),
    (-10.05, [-8.5, -8.3, -4.09, -3.73]),
    (-10.2, [-9.0, -8.6, -7.6, -7.3, -7.0, -6.7, -6.4, -6.1]),
    (-10.5, [-8.95, -8.6, -8.2, -7.9, -7.4, -7.1, -6.8, -6.5, -6.2]),
    (-10.7, [-8.9, -8.5, -8.2, -7.8, -7.5, -7.1, -6.7, -6.4, -6.1, -5.95, -5.1]),
    (-10.95, [-8.84, -8.3, -8.0, -7.7]),
    (-11.05, [-3.64]),
    (-11.15, [-8.2, -7.9, -5.36]),
    (-11.47, [-7.94]),
]

x_ticks = [-15, -10, -5, 0, 5, 10, 15]
y_ticks = [-10, -5, 0, 5, 10, 15]


def flatten(rows):
    xs, ys = [], []
    for y, row_x in rows:
        for x in row_x:
            xs.append(x)
            ys.append(y)
    return xs, ys


def main():
    dpi = 167.5
    fig = plt.figure(figsize=(899 / dpi, 706 / dpi), dpi=dpi)
    # the right edge of the axes lies past the picture, the reference is cropped there
    ax = fig.add_axes([76 / 899, 1 - 669 / 706, 830 / 899, 621 / 706])

    xa, ya = flatten(yellow_top + yellow_middle + yellow_dense + yellow_fill)
    xb, yb = flatten(purple_top + purple_bottom + purple_dense + purple_fill + purple_small)
    xs = xa + xb
    ys = ya + yb
    labels = [1] * len(xa) + [0] * len(xb)

    sc = ax.scatter(xs, ys, c=labels, cmap='viridis', s=11, linewidths=1.2)

    ax.set_xlim(-16.33, 16.09)
    ax.set_ylim(-14.03, 18.48)
    ax.set_xticks(x_ticks)
    ax.set_yticks(y_ticks)
    ax.tick_params(axis='x', pad=2.8)
    ax.set_title('Agglomerative clustering úl 1', pad=5)

    handles, names = sc.legend_elements()
    ax.legend(handles, ['0', '1'], title='Classes', loc='lower right')

    fig.savefig('out.png', dpi=dpi)


if __name__ == '__main__':
    main()
